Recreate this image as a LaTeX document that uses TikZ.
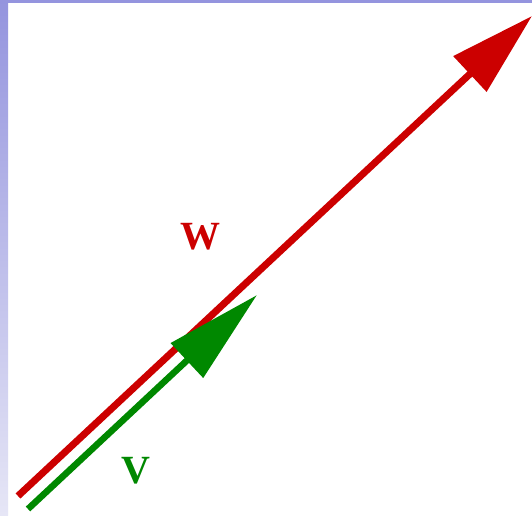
\documentclass[tikz,border=0pt]{standalone}
\usepackage{fontspec}
\setmainfont{Liberation Serif}
\usetikzlibrary{arrows.meta}
\definecolor{vecred}{RGB}{204,0,0}
\definecolor{vecgreen}{RGB}{0,136,0}
\definecolor{bandtop}{RGB}{148,148,222}
\definecolor{bandbot}{RGB}{230,230,246}

\begin{document}
\begin{tikzpicture}[x=1pt, y=1pt, line cap=butt, line join=round]
  % Frame: white page with a shaded band on the left and a strip on top
  \useasboundingbox (0,0) rectangle (532,515);
  \fill[white] (0,0) rectangle (532,515);
  \shade[top color=bandtop, bottom color=bandbot] (0,0) rectangle (8,515);
  \fill[bandtop] (0,512) rectangle (532,515);

  % End points of the two vectors
  \coordinate (Wtail) at (18,19);
  \coordinate (Whead) at (532,499);
  \coordinate (Vtail) at (28,6);
  \coordinate (Vhead) at (257,220);

  % Long vector w and short vector v along (almost) the same line
  \draw[vecred, line width=7pt, -{Triangle[length=85pt, width=47pt]}] (Wtail) -- (Whead);
  \draw[vecgreen, line width=6.5pt, -{Triangle[length=96pt, width=46pt]}] (Vtail) -- (Vhead);

  % Labels
  \node[vecred, inner sep=0pt, font=\fontsize{40}{40}\selectfont\bfseries] (Wlabel) at (200,278) {W};
  \node[vecgreen, inner sep=0pt, font=\fontsize{40}{40}\selectfont\bfseries] (Vlabel) at (136,44) {V};
\end{tikzpicture}
\end{document}
